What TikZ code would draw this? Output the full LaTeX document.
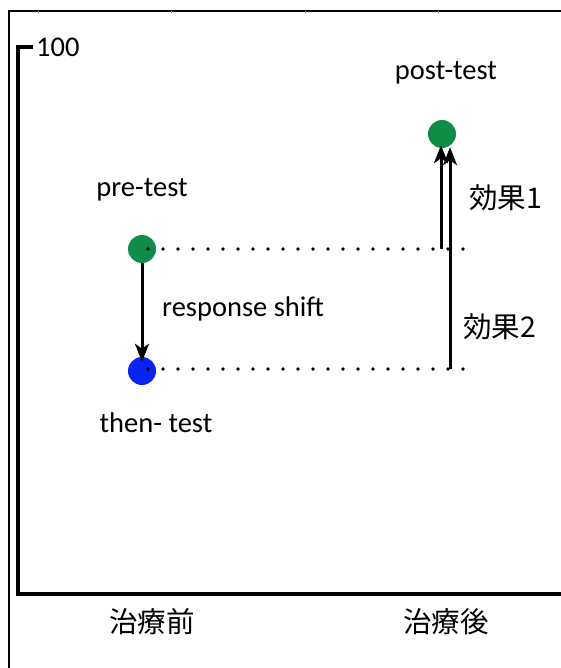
\documentclass[tikz,border=0pt]{standalone}
\usepackage{fontspec}
\setmainfont{Carlito}
\newfontfamily\cjk{Noto Sans CJK JP}
\usepackage{tikz}
\usetikzlibrary{arrows,arrows.meta,calc,positioning}
\definecolor{testgreen}{RGB}{14,140,72}
\definecolor{testblue}{RGB}{10,36,245}
\tikzset{
        dot/.style = {circle, inner sep=0pt, minimum size=28pt},
        label/.style = {font=\fontsize{28.5}{34}\selectfont, inner sep=0pt},
        arrow/.style = {draw, -{Stealth[length=18pt,width=14pt,inset=5pt]}, line width=3pt},
        axis/.style = {draw, line width=3.5pt, line cap=rect},
        dotline/.style = {draw, line width=3.8pt, line cap=round,
            dash pattern=on 0pt off 15pt},
        frame/.style = {draw, line width=1.2pt},
    }

\begin{document}
\begin{tikzpicture}[x=1pt,y=-1pt]
    \useasboundingbox (0,0) rectangle (561,668);

    % table frame
    \draw[frame] (9,668) -- (9,11) -- (561,11);
    \foreach \x in {38,171,305,438}
        \draw[black!25, line width=0.8pt] (\x,11) -- (\x,14);

    % axes
    \coordinate (ytick) at (31,47);
    \coordinate (ytop) at (18,47);
    \coordinate (origin) at (18,594);
    \coordinate (xend) at (561,594);
    \draw[axis] (ytick) -- (ytop) -- (origin) -- (xend);
    \node[label, anchor=west] (hundred) at (36,47) {100};

    % points
    \node[dot, fill=testgreen] (pre) at (142,249) {};
    \node[dot, fill=testblue] (then) at (142,371) {};
    \node[dot, fill=testgreen] (post) at (442,134) {};

    \node[label, above=48pt of pre.center] (pretext) {pre-test};
    \node[label, below=42pt of then.center, xshift=14pt] (thentext) {then- test};
    \node[label, above=50pt of post.center, xshift=4pt] (posttext) {post-test};

    % dotted levels
    \coordinate (preend) at (463,249);
    \coordinate (thenend) at (463,369);
    \draw[dotline] ($(pre.center)+(6,0)$) -- (preend);
    \draw[dotline] ($(then.center)+(6,-2)$) -- (thenend);

    % effects
    \coordinate (eff1) at (441,249);
    \coordinate (eff2) at (450,369);
    \draw[arrow] (pre) -- ($(then.north)+(0,5)$);
    \draw[arrow] (eff1) -- ($(eff1 |- post.south)+(0,-3)$);
    \draw[arrow] (eff2) -- ($(eff2 |- post.south)+(0,-1)$);

    \node[label, anchor=west] (shifttext) at (162,309) {response shift};
    \node[label, anchor=west] (eff1text) at (469,198) {\cjk 効果1};
    \node[label, anchor=west] (eff2text) at (463,327) {\cjk 効果2};

    % x axis labels
    \node[label] (before) at (152,622) {\cjk 治療前};
    \node[label] (after) at (446,622) {\cjk 治療後};
\end{tikzpicture}
\end{document}
